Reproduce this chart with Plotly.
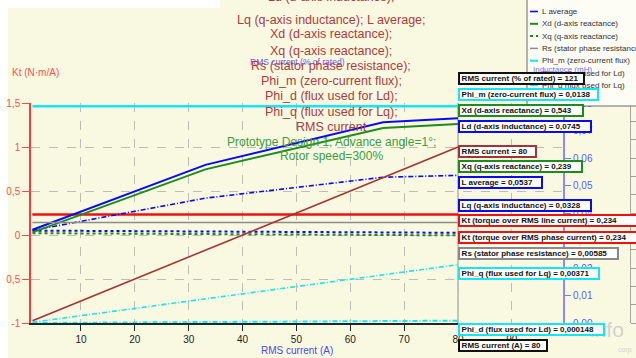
import plotly.graph_objects as go

W, H = 636, 358

# ---------------- data ----------------
current_A = [1, 33.1, 66.1, 80]
rated_pct_at_80A = 121
rms_cursor_A = 80

Ld = [0.0339, 0.0575, 0.0730, 0.0745]          # H
Lq = [0.0336, 0.0333, 0.0330, 0.0328]
L_avg = [0.0337, 0.0454, 0.0530, 0.0537]
Xd = [0.247, 0.419, 0.532, 0.543]              # Ohm
Xq = [0.245, 0.243, 0.241, 0.239]
Kt_line = [0.234, 0.234, 0.234, 0.234]         # N.m/A
Kt_phase = [0.234, 0.234, 0.234, 0.234]
Rs = [0.00585, 0.00585, 0.00585, 0.00585]      # Ohm
Phi_m = [0.0138, 0.0138, 0.0138, 0.0138]       # Wb
Phi_d = [0.0000008, 0.0000473, 0.000120, 0.000148]
Phi_q = [0.000047, 0.00154, 0.00307, 0.00371]
I_rms = [1, 33.1, 66.1, 80]                    # A

bottom_ticks = [10, 20, 30, 40, 50, 60, 70, 80, 90]
top_ticks = [20, 40, 60, 80, 100, 120, 140]
kt_tickvals = [-1, -0.5, 0, 0.5, 1, 1.5]
kt_ticktext = ["-1", "0,5", "0", "0,5", "1", "1,5"]

title_lines = [
    "Ld (d-axis inductance);",
    "Lq (q-axis inductance); L average;",
    "Xd (d-axis reactance);",
    "Xq (q-axis reactance);",
    "Rs (stator phase resistance);",
    "Phi_m (zero-current flux);",
    "Phi_d (flux used for Ld);",
    "Phi_q (flux used for Lq);",
    "RMS current",
]
subtitle_lines = ["Prototype Design 1; Advance angle=1°;", "Rotor speed=300%"]


def px(x):
    return x / W


def py(y):
    return 1 - y / H


def fmt(v):
    s = f"{v:.3g}"
    if "e" in s:
        s = f"{v:.6f}".rstrip("0")
    return s.replace(".", ",")


BLUE = "#0a0af0"
GREEN = "#1c8c1c"
RED = "#f01010"
GRAY = "#8c8c8c"
CYAN = "#14e6f5"
BROWN = "#a83232"
DASHDOT = "5px,2px,1px,2px"

# series: name, values, axis, color, dash, width
series = [
    ("Kt (torque over RMS line current)", Kt_line, "y", RED, "solid", 2),
    ("Kt (torque over RMS phase current)", Kt_phase, "y", RED, "solid", 2),
    ("Ld (d-axis inductance)", Ld, "y3", BLUE, "solid", 2),
    ("Lq (q-axis inductance)", Lq, "y3", BLUE, "dot", 2),
    ("L average", L_avg, "y3", BLUE, DASHDOT, 1.6),
    ("Xd (d-axis reactance)", Xd, "y5", GREEN, "solid", 2),
    ("Xq (q-axis reactance)", Xq, "y5", GREEN, "dot", 2),
    ("Rs (stator phase resistance)", Rs, "y6", GRAY, "solid", 1.5),
    ("Phi_m (zero-current flux)", Phi_m, "y7", CYAN, "solid", 2.5),
    ("Phi_d (flux used for Ld)", Phi_d, "y7", CYAN, DASHDOT, 2),
    ("Phi_q (flux used for Lq)", Phi_q, "y7", CYAN, DASHDOT, 1.6),
    ("RMS current", I_rms, "y8", BROWN, "solid", 1.6),
]

fig = go.Figure()
for name, vals, ax, col, dash, wd in series:
    fig.add_trace(go.Scatter(x=current_A, y=vals, yaxis=ax, xaxis="x", mode="lines",
                             name=name, line=dict(color=col, dash=dash, width=wd),
                             hoverinfo="skip"))

xdom = [px(31), px(564)]
ydom = [py(323), py(103)]
xr = [0.72, 99.68]
xr_pct = [v * rated_pct_at_80A / rms_cursor_A for v in xr]
tickfont = dict(family="Arial", size=10, color="#202020")
grid = dict(showgrid=True, gridcolor="#bdbdb4", griddash="dash", gridwidth=1)

layout = dict(
    width=W, height=H, margin=dict(l=0, r=0, t=0, b=0, autoexpand=False),
    paper_bgcolor="white", plot_bgcolor="#fcfcec", showlegend=False,
    separators=", ",
    xaxis=dict(domain=xdom, range=xr, anchor="y", tickmode="array", tickvals=bottom_ticks,
               ticks="outside", ticklen=6, tickcolor="#1a2a2a", tickwidth=1,
               showline=True, linecolor="#1a2a2a", linewidth=1.5, zeroline=False,
               automargin=False, tickfont=tickfont, **grid),
    xaxis3=dict(overlaying="x", range=xr, anchor="y", tickmode="array", tickvals=bottom_ticks,
                ticks="inside", ticklen=6, tickcolor="#1a2a2a", showticklabels=False,
                showgrid=False, zeroline=False, showline=False),
    xaxis2=dict(overlaying="x", side="top", anchor="y", range=xr_pct, tickmode="array",
                tickvals=top_ticks, ticks="outside", ticklen=5, tickcolor="#1a1a1a",
                showline=True, linecolor="#2a2a2a", linewidth=1.5, showgrid=False,
                automargin=False, zeroline=False, tickfont=tickfont),
    xaxis4=dict(overlaying="x", side="top", anchor="y", range=xr_pct, tickmode="array",
                tickvals=top_ticks, ticks="inside", ticklen=5, tickcolor="#1a1a1a",
                showticklabels=False, showgrid=False, zeroline=False, showline=False),
    yaxis=dict(domain=ydom, range=[-1, 1.5], anchor="x", tickmode="array",
               tickvals=kt_tickvals, ticktext=kt_ticktext, ticks="outside", ticklen=7,
               tickcolor="#ff4a4a", showline=True, linecolor="#ff3a3a", linewidth=1.5,
               automargin=False, zeroline=False,
               tickfont=dict(family="Arial", size=10, color="#ff5050"), **grid),
    yaxis2=dict(overlaying="y", range=[-1, 1.5], anchor="x", tickmode="array",
                tickvals=kt_tickvals, ticks="inside", ticklen=7, tickcolor="#ff4a4a",
                showticklabels=False, showgrid=False, zeroline=False, showline=False),
    yaxis3=dict(overlaying="y", range=[0, 0.08], anchor="free", position=px(564), side="right",
                dtick=0.01, tick0=0, tickformat=".2f", ticks="outside", ticklen=6,
                tickcolor="#7a7aff", showline=True, linecolor="#8a8aff", linewidth=2,
                automargin=False, showgrid=False, zeroline=False,
                tickfont=dict(family="Arial", size=10, color="#5a5aff")),
    yaxis4=dict(overlaying="y", range=[0, 0.08], anchor="free", position=px(564), side="right",
                dtick=0.01, tick0=0, ticks="inside", ticklen=6, tickcolor="#7a7aff",
                showticklabels=False, showgrid=False, zeroline=False, showline=False),
    yaxis5=dict(overlaying="y", range=[0, 0.6], anchor="free", position=px(630), side="right",
                dtick=0.05, tick0=0, ticks="outside", ticklen=5, tickcolor="#a0a0a0",
                showline=True, linecolor="#a8a8a8", linewidth=1, showticklabels=False,
                automargin=False, showgrid=False, zeroline=False),
    yaxis6=dict(overlaying="y", range=[0, 0.0128], visible=False),
    yaxis7=dict(overlaying="y", range=[0, 0.014], visible=False),
    yaxis8=dict(overlaying="y", range=[0, 100], visible=False),
)
fig.update_layout(**layout)

shapes = []
annotations = []

# cream panel behind everything
shapes.append(dict(type="rect", xref="paper", yref="paper", x0=px(8), x1=1, y0=0, y1=py(8),
                   fillcolor="#f9f9e2", line=dict(width=0), layer="below"))
shapes.append(dict(type="rect", xref="paper", yref="paper", x0=px(220), x1=1, y0=py(8), y1=1,
                   fillcolor="#f9f9e2", line=dict(width=0), layer="below"))
# cursor line at 80 A
shapes.append(dict(type="line", xref="x", yref="paper", x0=rms_cursor_A, x1=rms_cursor_A,
                   y0=py(323), y1=py(103), line=dict(color="#909090", width=1), layer="below"))

# watermark
annotations.append(dict(x=px(588), y=py(329), xref="paper", yref="paper", xanchor="left",
                        yanchor="middle", text="info", showarrow=False,
                        font=dict(family="Arial", size=21, color="#d2d2ca")))
annotations.append(dict(x=px(616), y=py(350), xref="paper", yref="paper", xanchor="left",
                        yanchor="middle", text="corp", showarrow=False,
                        font=dict(family="Arial", size=7, color="#d2d2ca")))

# axis titles
annotations.append(dict(x=px(10), y=py(72), xref="paper", yref="paper", xanchor="left",
                        yanchor="middle", text="Kt (N·m/A)", showarrow=False,
                        font=dict(family="Arial", size=10, color="#ff5050")))
annotations.append(dict(x=px(297), y=py(350), xref="paper", yref="paper", xanchor="center",
                        yanchor="middle", text="RMS current (A)", showarrow=False,
                        font=dict(family="Arial", size=10, color="#4a4ae8")))
annotations.append(dict(x=px(297), y=py(62), xref="paper", yref="paper", xanchor="center",
                        yanchor="middle", text="RMS current (% of rated)", showarrow=False,
                        font=dict(family="Arial", size=8.5, color="#5a5aff")))

# title
title_y = [-3, 20, 34.5, 50.5, 66, 81, 96.5, 112, 127]
for t, yy in zip(title_lines, title_y):
    annotations.append(dict(x=px(331), y=py(yy), xref="paper", yref="paper",
                            xanchor="center", yanchor="middle", text=t, showarrow=False,
                            font=dict(family="Arial", size=12.5, color="#b03a3a")))
for i, t in enumerate(subtitle_lines):
    annotations.append(dict(x=px(331), y=py(142 + 13.5 * i), xref="paper", yref="paper",
                            xanchor="center", yanchor="middle", text=t, showarrow=False,
                            font=dict(family="Arial", size=12, color="#3c9c3c")))

# legend (top right)
shapes.append(dict(type="rect", xref="paper", yref="paper", x0=px(527), x1=px(645),
                   y0=py(106), y1=py(-2), fillcolor="#fdfdf6",
                   line=dict(color="#6a6a6a", width=1), layer="above"))
legend_order = ["L average", "Xd (d-axis reactance)",
                "Xq (q-axis reactance)", "Rs (stator phase resistance)",
                "Phi_m (zero-current flux)", "Phi_d (flux used for Ld)",
                "Phi_q (flux used for Lq)", "RMS current"]
style = {s[0]: s for s in series}
for k, nm in enumerate(legend_order):
    yy = 11.5 + 12.3 * k
    _, _, _, col, dash, wd = style[nm]
    ldash = "solid" if dash == "solid" else ("dot" if dash == "dot" else "dashdot")
    shapes.append(dict(type="line", xref="paper", yref="paper", x0=px(530), x1=px(538),
                       y0=py(yy), y1=py(yy), line=dict(color=col, width=min(wd, 2), dash=ldash),
                       layer="above"))
    annotations.append(dict(x=px(540), y=py(yy), xref="paper", yref="paper", xanchor="left",
                            yanchor="middle", text=nm, showarrow=False,
                            font=dict(family="Arial", size=8, color="#303030")))

annotations.append(dict(x=px(531), y=py(70), xref="paper", yref="paper", xanchor="left",
                        yanchor="middle", text="Inductance (mH)", showarrow=False,
                        font=dict(family="Arial", size=8, color="#7070ff")))

# value boxes at the cursor
vals_at = {s[0]: s[1][-1] for s in series}
boxes = [
    (f"RMS current (% of rated) = {rated_pct_at_80A}", "#111111", 79, 585),
    ("Phi_m (zero-current flux) = " + fmt(vals_at["Phi_m (zero-current flux)"]), CYAN, 94, 599),
    ("Xd (d-axis reactance) = " + fmt(vals_at["Xd (d-axis reactance)"]), GREEN, 110, 584),
    ("Ld (d-axis inductance) = " + fmt(vals_at["Ld (d-axis inductance)"]), BLUE, 126, 592),
    (f"RMS current = {vals_at['RMS current']:g}", BROWN, 151.5, 537),
    ("Xq (q-axis reactance) = " + fmt(vals_at["Xq (q-axis reactance)"]), GREEN, 167, 583),
    ("L average = " + fmt(vals_at["L average"]), BLUE, 182.5, 543),
    ("Lq (q-axis inductance) = " + fmt(vals_at["Lq (q-axis inductance)"]), BLUE, 205.5, 592),
    ("Kt (torque over RMS line current) = " + fmt(vals_at["Kt (torque over RMS line current)"]), RED, 220.5, 642),
    ("Kt (torque over RMS phase current) = " + fmt(vals_at["Kt (torque over RMS phase current)"]), RED, 237.5, 648),
    ("Rs (stator phase resistance) = " + fmt(vals_at["Rs (stator phase resistance)"]), "#8a8a8a", 253.5, 619),
    ("Phi_q (flux used for Lq) = " + fmt(vals_at["Phi_q (flux used for Lq)"]), CYAN, 273, 600),
    ("Phi_d (flux used for Ld) = " + fmt(vals_at["Phi_d (flux used for Ld)"]), CYAN, 329, 605),
    (f"RMS current (A) = {rms_cursor_A}", "#111111", 345.5, 548),
]
for txt, col, yc, xr_px in boxes:
    annotations.append(dict(x=px(458), y=py(yc), xref="paper", yref="paper", xanchor="left",
                            yanchor="middle", text="<b>\u2009" + txt + "</b>", showarrow=False,
                            align="left", bgcolor="white", bordercolor=col, borderwidth=2,
                            borderpad=0, width=xr_px - 458 - 4, height=9,
                            font=dict(family="Arial", size=8, color="#101010")))

fig.update_layout(shapes=shapes, annotations=annotations)
fig.write_html("out.html")
